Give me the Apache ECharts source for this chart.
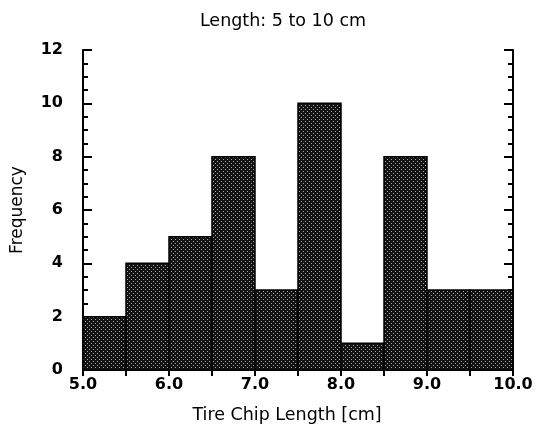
<!DOCTYPE html>
<html>
<head>
<meta charset="utf-8">
<script src="https://cdn.jsdelivr.net/npm/echarts@6/dist/echarts.min.js"></script>
<style>html,body{margin:0;padding:0;background:#fff}#c{width:538px;height:435px}</style>
</head>
<body>
<div id="c"></div>
<script>
const binStarts = [5.0, 5.5, 6.0, 6.5, 7.0, 7.5, 8.0, 8.5, 9.0, 9.5];
const binWidth = 0.5;
const frequencies = [2, 4, 5, 8, 3, 10, 1, 8, 3, 3];
const titleText = 'Length: 5 to 10 cm';
const xName = 'Tire Chip Length [cm]';
const yName = 'Frequency';

// stipple fill pattern
const pc = document.createElement('canvas');
pc.width = 4; pc.height = 4;
const pctx = pc.getContext('2d');
pctx.fillStyle = '#121212'; pctx.fillRect(0, 0, 4, 4);
pctx.fillStyle = '#a8a8a8'; pctx.fillRect(1, 1, 1, 1); pctx.fillRect(3, 3, 1, 1);
const stipple = {image: pc, repeat: 'repeat'};

const chart = echarts.init(document.getElementById('c'), null, {renderer: 'canvas'});
const font = 'DejaVu Sans, sans-serif';
const lineStyle = {color: '#000', width: 2};
const data = binStarts.map((s, i) => [s, s + binWidth, frequencies[i]]);
const tickLab = {fontFamily: font, fontSize: 16, fontWeight: 'bold', color: '#000'};

chart.setOption({
  animation: false,
  backgroundColor: '#fff',
  title: {
    text: titleText, left: 278, top: 7, textAlign: 'center',
    textStyle: {fontFamily: font, fontSize: 17.5, fontWeight: 'normal', color: '#000'}
  },
  grid: {left: 83, top: 50, width: 430, height: 320, containLabel: false},
  xAxis: [{
    type: 'value', min: 5, max: 10, interval: 1, position: 'bottom',
    name: xName, nameLocation: 'middle', nameGap: 36,
    nameTextStyle: {fontFamily: font, fontSize: 17.5, color: '#000', padding: [0, 22, 0, 0]},
    axisLine: {show: true, lineStyle: lineStyle},
    axisTick: {show: true, inside: true, length: 6, lineStyle: {color: '#000', width: 2}},
    minorTick: {show: true, splitNumber: 2, length: 6, lineStyle: {color: '#000', width: 2}},
    axisLabel: Object.assign({margin: 7, formatter: v => v.toFixed(1)}, tickLab),
    splitLine: {show: false}
  }, {
    type: 'value', min: 5, max: 10, interval: 1, position: 'top',
    axisLine: {show: true, lineStyle: lineStyle},
    axisTick: {show: true, inside: true, length: 6, lineStyle: {color: '#000', width: 2}},
    minorTick: {show: true, splitNumber: 2, length: 6, lineStyle: {color: '#000', width: 2}},
    axisLabel: {show: false}, splitLine: {show: false}
  }],
  yAxis: [{
    type: 'value', min: 0, max: 12, interval: 2, position: 'left',
    name: yName, nameLocation: 'middle', nameGap: 57,
    nameTextStyle: {fontFamily: font, fontSize: 17, color: '#000'},
    axisLine: {show: true, lineStyle: lineStyle},
    axisTick: {show: true, inside: true, length: 9, lineStyle: {color: '#000', width: 2}},
    minorTick: {show: true, splitNumber: 4, length: 5, lineStyle: {color: '#000', width: 2}},
    axisLabel: Object.assign({margin: 20}, tickLab),
    splitLine: {show: false}
  }, {
    type: 'value', min: 0, max: 12, interval: 2, position: 'right',
    axisLine: {show: true, lineStyle: lineStyle},
    axisTick: {show: true, inside: true, length: 9, lineStyle: {color: '#000', width: 2}},
    minorTick: {show: true, splitNumber: 4, length: 5, lineStyle: {color: '#000', width: 2}},
    axisLabel: {show: false}, splitLine: {show: false}
  }],
  series: [{
    type: 'custom',
    xAxisIndex: 0, yAxisIndex: 0,
    data: data,
    encode: {x: [0, 1], y: 2},
    renderItem: function (params, api) {
      const p0 = api.coord([api.value(0), api.value(2)]);
      const p1 = api.coord([api.value(1), 0]);
      return {
        type: 'rect',
        shape: {x: p0[0], y: p0[1], width: p1[0] - p0[0], height: p1[1] - p0[1]},
        style: {fill: stipple, stroke: '#000', lineWidth: 1.5}
      };
    }
  }]
});
</script>
</body>
</html>
